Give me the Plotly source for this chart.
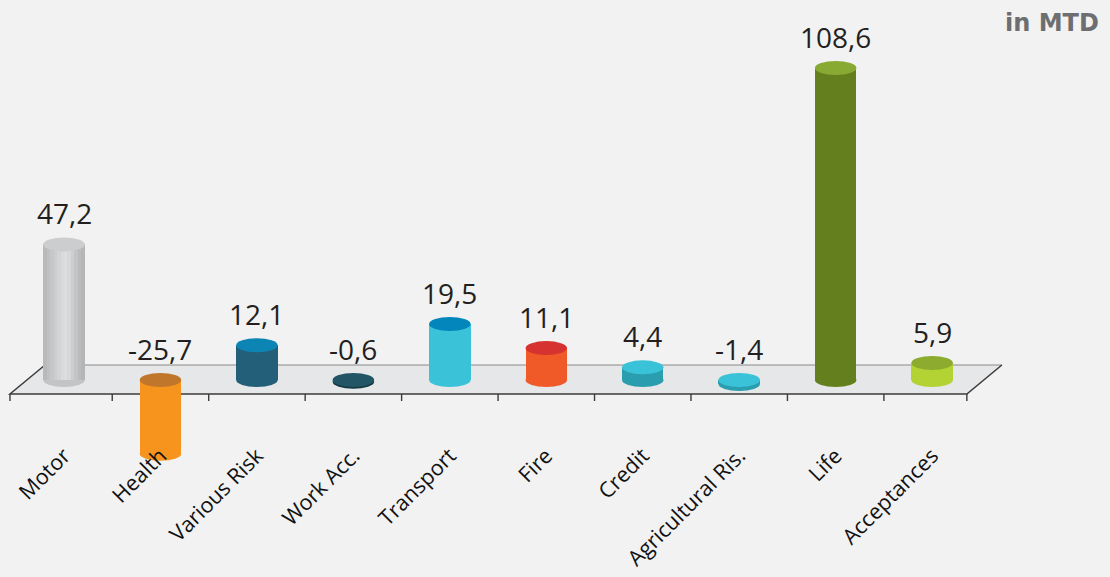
import plotly.graph_objects as go

# ---- data -------------------------------------------------------------
categories = ["Motor", "Health", "Various Risk", "Work Acc.", "Transport",
              "Fire", "Credit", "Agricultural Ris.", "Life", "Acceptances"]
values = [47.2, -25.7, 12.1, -0.6, 19.5, 11.1, 4.4, -1.4, 108.6, 5.9]
side_colors = ["#c2c4c6", "#f7941d", "#245f7a", "#143a43", "#3ac2d8",
               "#f05a28", "#2a9daf", "#2a9daf", "#64801e", "#b3d334"]
cap_colors = ["#cbcdcf", "#c1772b", "#0c85b4", "#225566", "#0386bb",
              "#d6322f", "#3ac2d8", "#3ac2d8", "#89aa32", "#8cab2f"]
unit_label = "in MTD"

# shading across the width of the grey cylinder (left -> right)
motor_shade = ["#b7b9bb", "#bec0c2", "#c5c7c9", "#cbcdcf", "#d2d4d5", "#d9dadb",
               "#dcdddf", "#d6d8d9", "#ccced0", "#c2c4c6", "#b9bbbd", "#b3b5b7"]

# ---- geometry ----------------------------------------------------------
W, H = 1110, 577
BAR_W = 0.43          # cylinder width in category units
CAP = 7               # half-height of the elliptical caps, px
X_RANGE = [-0.6635, 10.844]
Y_RANGE = [-68.6, 132.3]
FLOOR_FRONT = (-0.56, 9.36)   # front corners of the floor plane (x units)
FLOOR_SKEW = 0.363            # depth offset of the back edge (x units)
FLOOR_BACK_PX, FLOOR_FRONT_PX = 15, -14

idx = list(range(len(categories)))
fmt = [f"{v:.1f}".replace(".", ",") for v in values]

fig = go.Figure()

# cylinder bodies
fig.add_trace(go.Bar(
    x=idx, y=values, width=BAR_W,
    marker=dict(color=side_colors, line=dict(width=0)),
    hoverinfo="skip", showlegend=False,
))

# metallic shading of the first cylinder
n = len(motor_shade)
sw = BAR_W / n
fig.add_trace(go.Bar(
    x=[idx[0]] * n, y=[values[0]] * n,
    width=[sw * 1.08] * n,
    offset=[-BAR_W / 2 + k * sw for k in range(n)],
    marker=dict(color=motor_shade, line=dict(width=0)),
    hoverinfo="skip", showlegend=False,
))

shapes = []
# floor plane
fl, fr = FLOOR_FRONT
floor_path = (f"M{fl},{FLOOR_FRONT_PX} L{fr},{FLOOR_FRONT_PX} "
              f"L{fr + FLOOR_SKEW},{FLOOR_BACK_PX} L{fl + FLOOR_SKEW},{FLOOR_BACK_PX} Z")
shapes.append(dict(type="path", path=floor_path, xref="x", yref="y",
                   ysizemode="pixel", yanchor=0, layer="below",
                   fillcolor="#e6e7e8", line=dict(width=0)))
shapes.append(dict(type="path",
                   path=f"M{fl + FLOOR_SKEW},{FLOOR_BACK_PX} L{fr + FLOOR_SKEW},{FLOOR_BACK_PX}",
                   xref="x", yref="y", ysizemode="pixel", yanchor=0, layer="below",
                   line=dict(color="#8a8a8a", width=1.2)))
shapes.append(dict(type="path",
                   path=(f"M{fl + FLOOR_SKEW},{FLOOR_BACK_PX} L{fl},{FLOOR_FRONT_PX} "
                         f"L{fr},{FLOOR_FRONT_PX} L{fr + FLOOR_SKEW},{FLOOR_BACK_PX}"),
                   xref="x", yref="y", ysizemode="pixel", yanchor=0, layer="below",
                   line=dict(color="#3c3c3c", width=1.5)))
# tick marks along the front edge
tick_x = [fl] + [i + 0.5 for i in idx[:-1]] + [fr]
for tx in tick_x:
    shapes.append(dict(type="line", xref="x", yref="y", x0=tx, x1=tx,
                       ysizemode="pixel", yanchor=0,
                       y0=FLOOR_FRONT_PX, y1=FLOOR_FRONT_PX - 7, layer="below",
                       line=dict(color="#3c3c3c", width=1.4)))

# bottom and top ellipses of each cylinder
for i, v in zip(idx, values):
    lo, hi = min(v, 0), max(v, 0)
    shapes.append(dict(type="circle", xref="x", yref="y",
                       x0=i - BAR_W / 2, x1=i + BAR_W / 2,
                       ysizemode="pixel", yanchor=lo, y0=-CAP, y1=CAP,
                       fillcolor=side_colors[i], line=dict(width=0), layer="below"))
    shapes.append(dict(type="circle", xref="x", yref="y",
                       x0=i - BAR_W / 2, x1=i + BAR_W / 2,
                       ysizemode="pixel", yanchor=hi, y0=-CAP, y1=CAP,
                       fillcolor=cap_colors[i], line=dict(width=0), layer="above"))

# value labels above each cylinder
annotations = [dict(x=i, y=max(v, 0), text=t, showarrow=False,
                    xref="x", yref="y", yanchor="bottom", yshift=CAP + 3,
                    font=dict(family="Open Sans", size=28, color="#231f20"))
               for i, v, t in zip(idx, values, fmt)]
annotations.append(dict(x=1101 / W, y=1 - 23 / H, xref="paper", yref="paper",
                        xanchor="right", yanchor="middle", showarrow=False,
                        text=f"<b>{unit_label}</b>",
                        font=dict(family="DejaVu Sans", size=24, color="#6d6e71")))

fig.update_layout(
    width=W, height=H,
    margin=dict(l=0, r=0, t=0, b=0, autoexpand=False),
    paper_bgcolor="#f2f2f2", plot_bgcolor="#f2f2f2",
    barmode="overlay", bargap=0,
    shapes=shapes, annotations=annotations,
    xaxis=dict(range=X_RANGE, tickmode="array", tickvals=idx, ticktext=categories,
               tickangle=-45, anchor="free", position=(H - 394) / H,
               automargin=False,
               showline=False, showgrid=False, zeroline=False, ticks="",
               ticklabelstandoff=44,
               tickfont=dict(family="Open Sans", size=21.5, color="#111111")),
    yaxis=dict(range=Y_RANGE, visible=False, showgrid=False, zeroline=False,
               automargin=False),
)

fig.write_html("out.html")
